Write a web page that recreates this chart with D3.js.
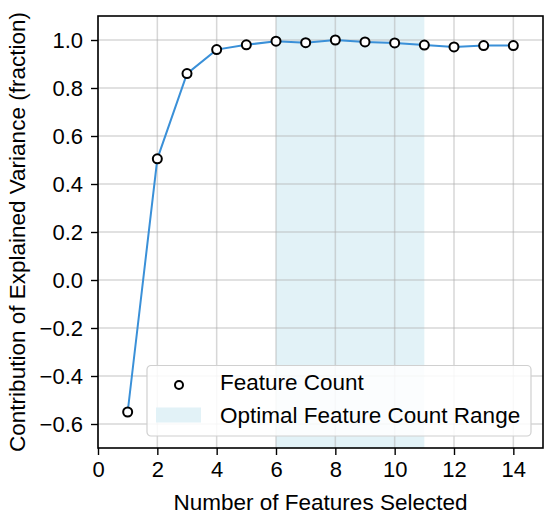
<!DOCTYPE html>
<html>
<head>
<meta charset="utf-8">
<script src="https://cdn.jsdelivr.net/npm/d3@7"></script>
<style>
  body { margin: 0; background: #fff; }
  svg { font-family: "Liberation Sans", Arial, sans-serif; }
</style>
</head>
<body>
<svg id="chart" width="550" height="519"></svg>
<script>
// [A] Datos ------------------------------------------------------------------
const featureCounts = [1, 2, 3, 4, 5, 6, 7, 8, 9, 10, 11, 12, 13, 14];
const explainedVariance = [-0.55, 0.505, 0.86, 0.96, 0.98, 0.995, 0.989, 1.0, 0.992, 0.988, 0.979, 0.971, 0.977, 0.977];
const optimalRange = [6, 11];
const xTicks = [0, 2, 4, 6, 8, 10, 12, 14];
const yTicks = [-0.6, -0.4, -0.2, 0.0, 0.2, 0.4, 0.6, 0.8, 1.0];
const legendLabels = ["Feature Count", "Optimal Feature Count Range"];

// [B] Configuracion ------------------------------------------------------------
const margin = { top: 16, right: 7, bottom: 71, left: 98 };
const width = 550, height = 519;
const innerW = width - margin.left - margin.right;
const innerH = height - margin.top - margin.bottom;

const svg = d3.select("#chart");
const g = svg.append("g").attr("transform", `translate(${margin.left},${margin.top})`);

const x = d3.scaleLinear().domain([0, 15]).range([0, innerW]);
const y = d3.scaleLinear().domain([-0.7, 1.1]).range([innerH, 0]);

// [C] Zona optima sombreada
g.append("rect")
  .attr("x", x(optimalRange[0]))
  .attr("y", 0)
  .attr("width", x(optimalRange[1]) - x(optimalRange[0]))
  .attr("height", innerH)
  .attr("fill", "#e2f2f7");

// [D] Cuadricula
g.selectAll(".gx").data(xTicks).join("line")
  .attr("x1", d => x(d)).attr("x2", d => x(d))
  .attr("y1", 0).attr("y2", innerH)
  .attr("stroke", "#b0b0b0").attr("stroke-opacity", 0.5).attr("stroke-width", 1.5);
g.selectAll(".gy").data(yTicks).join("line")
  .attr("y1", d => y(d)).attr("y2", d => y(d))
  .attr("x1", 0).attr("x2", innerW)
  .attr("stroke", "#b0b0b0").attr("stroke-opacity", 0.5).attr("stroke-width", 1.5);

// [E] Linea y marcadores
const line = d3.line().x((d, i) => x(featureCounts[i])).y(d => y(d));
g.append("path")
  .datum(explainedVariance)
  .attr("d", line)
  .attr("fill", "none")
  .attr("stroke", "#3a90d8")
  .attr("stroke-width", 2);

g.selectAll(".pt").data(explainedVariance).join("circle")
  .attr("cx", (d, i) => x(featureCounts[i]))
  .attr("cy", d => y(d))
  .attr("r", 4.5)
  .attr("fill", "#fff")
  .attr("stroke", "#000")
  .attr("stroke-width", 2);

// [F] Ejes
const fmt = d => d === 0 ? "0.0" : d3.format(".1f")(d).replace("-", "\u2212");
const xAxis = g.append("g").attr("transform", `translate(0,${innerH})`)
  .call(d3.axisBottom(x).tickValues(xTicks).tickSize(7).tickPadding(6).tickFormat(d3.format("d")));
const yAxis = g.append("g")
  .call(d3.axisLeft(y).tickValues(yTicks).tickSize(7).tickPadding(8).tickFormat(fmt));
[xAxis, yAxis].forEach(a => {
  a.select(".domain").remove();
  a.selectAll("text").attr("font-size", 22).attr("fill", "#000").attr("font-family", "Liberation Sans, Arial, sans-serif");
  a.selectAll("line").attr("stroke", "#000").attr("stroke-width", 1.4);
});

// Marco
g.append("rect")
  .attr("width", innerW).attr("height", innerH)
  .attr("fill", "none").attr("stroke", "#000").attr("stroke-width", 1.6);

// [G] Etiquetas
svg.append("text")
  .attr("x", margin.left + innerW / 2).attr("y", 510)
  .attr("text-anchor", "middle").attr("font-size", 22.5)
  .text("Number of Features Selected");
svg.append("text")
  .attr("transform", `translate(25,${margin.top + innerH / 2}) rotate(-90)`)
  .attr("text-anchor", "middle").attr("font-size", 22.5)
  .text("Contribution of Explained Variance (fraction)");

// [H] Leyenda
const lg = svg.append("g").attr("transform", "translate(147,365.5)");
lg.append("rect")
  .attr("width", 384).attr("height", 70.5).attr("rx", 4)
  .attr("fill", "#fff").attr("fill-opacity", 0.85)
  .attr("stroke", "#d0d0d0").attr("stroke-width", 1.2);
lg.append("circle")
  .attr("cx", 32).attr("cy", 19.5).attr("r", 4)
  .attr("fill", "#fff").attr("stroke", "#000").attr("stroke-width", 2);
lg.append("rect")
  .attr("x", 9).attr("y", 42).attr("width", 45).attr("height", 15)
  .attr("fill", "#e2f2f7");
lg.selectAll(".lt").data(legendLabels).join("text")
  .attr("x", 73).attr("y", (d, i) => 24.5 + i * 33.3)
  .attr("font-size", 22.5)
  .text(d => d);
</script>
</body>
</html>
